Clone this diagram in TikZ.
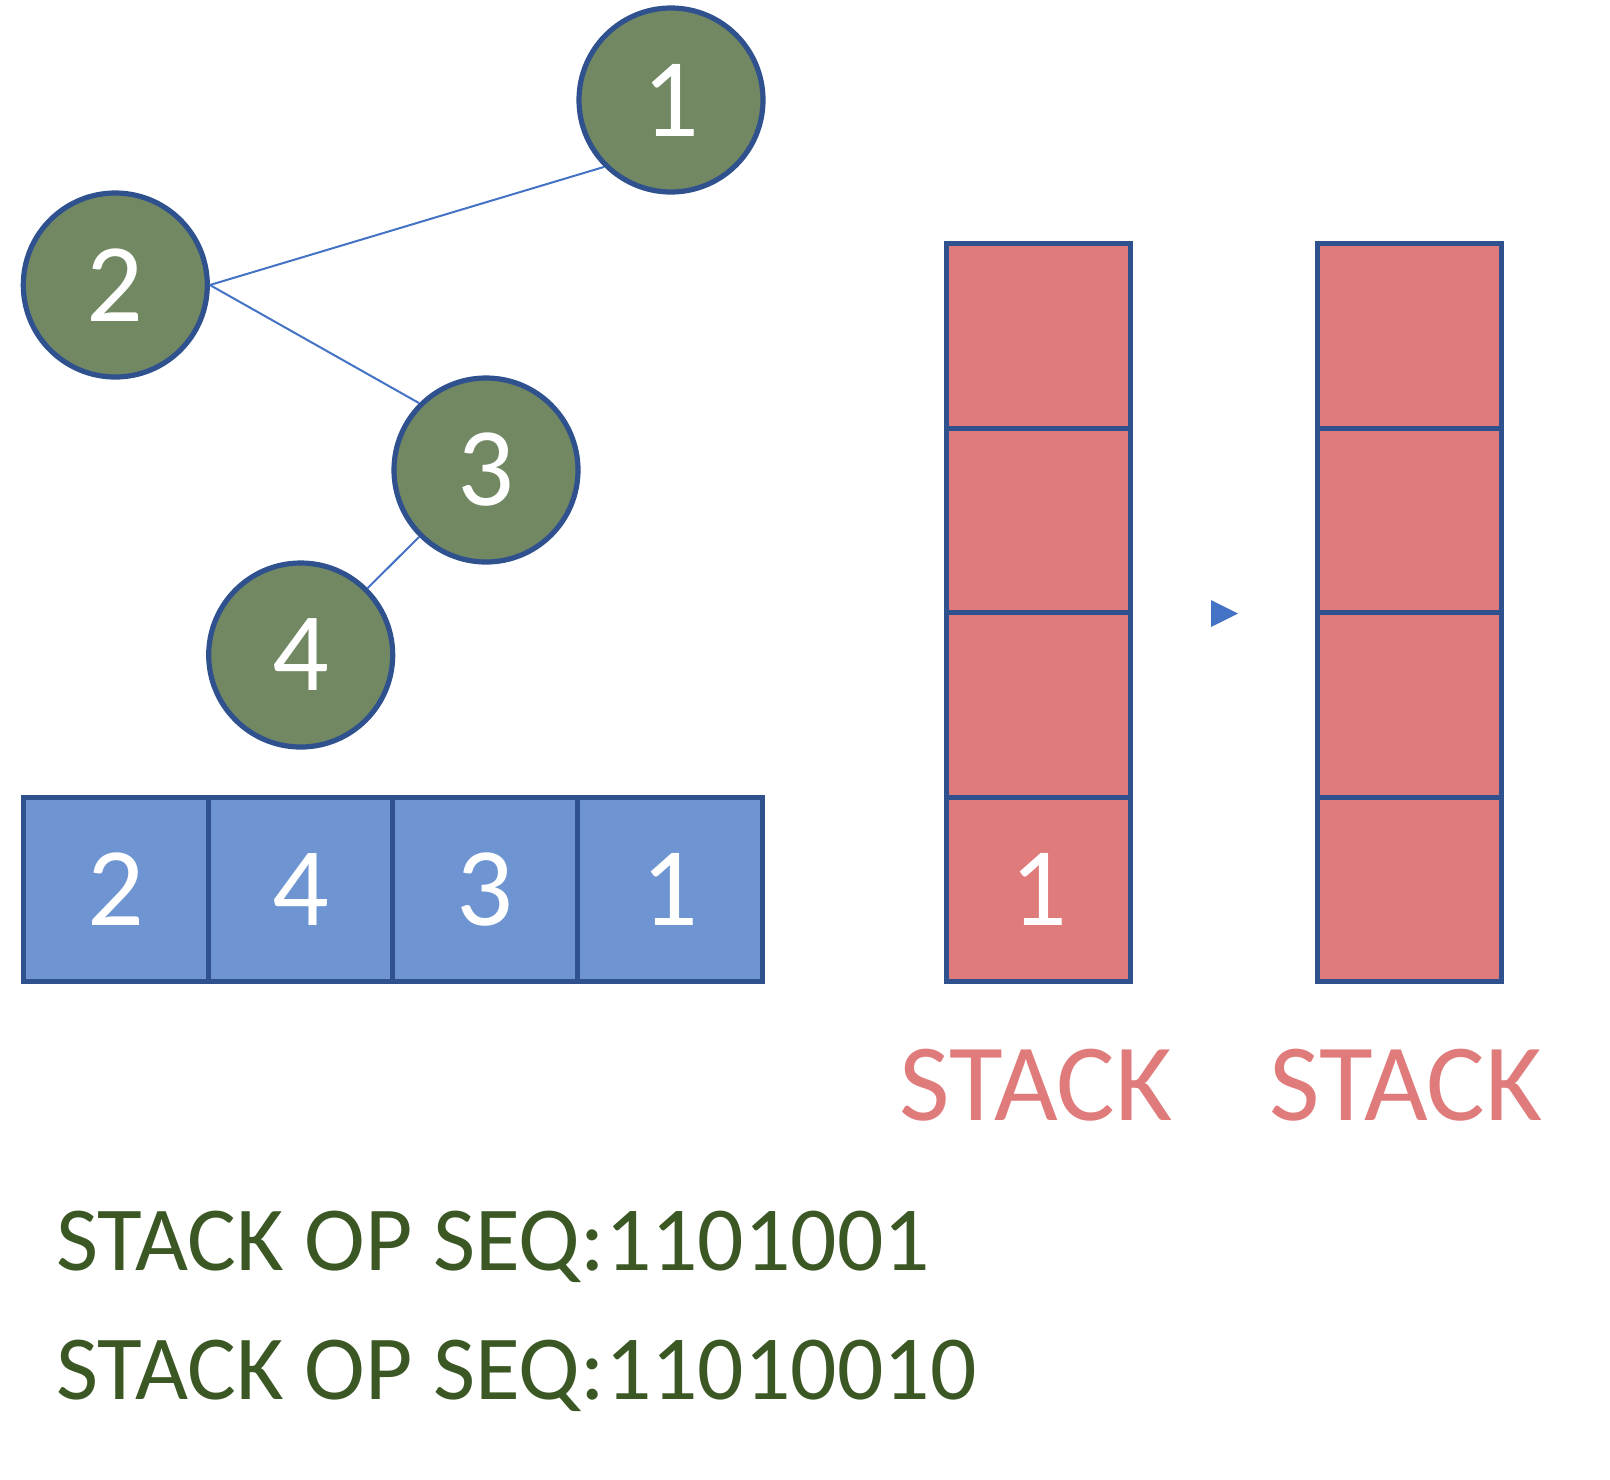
\documentclass[tikz,border=0pt]{standalone}
\usepackage{fontspec}
\setmainfont{Carlito}
\definecolor{nodegreen}{HTML}{718862}
\definecolor{bordblue}{HTML}{2F528F}
\definecolor{arrblue}{HTML}{6E94D2}
\definecolor{stackpink}{HTML}{E07B7B}
\definecolor{edgeblue}{HTML}{4472C4}
\definecolor{textgreen}{HTML}{3A5724}
\tikzset{
  treenode/.style={circle, draw=bordblue, line width=2.6pt, fill=nodegreen, minimum size=92pt, inner sep=0pt, text=white, font=\fontsize{56}{62}\selectfont},
  arrcell/.style={rectangle, draw=bordblue, line width=2.5pt, fill=arrblue, minimum width=92.3pt, minimum height=92.3pt, inner sep=0pt, text=white, font=\fontsize{56}{62}\selectfont},
  stackcell/.style={rectangle, draw=bordblue, line width=2.5pt, fill=stackpink, minimum width=92.3pt, minimum height=92.3pt, inner sep=0pt, text=white, font=\fontsize{56}{62}\selectfont},
  treeedge/.style={draw=edgeblue, line width=1pt},
  stacklabel/.style={anchor=base, text=stackpink, inner sep=0pt, font=\fontsize{55}{62}\selectfont},
  seqtext/.style={anchor=base west, text=textgreen, inner sep=0pt, font=\fontsize{45.8}{52}\selectfont}
}
\begin{document}
\begin{tikzpicture}[x=0.5pt, y=-0.5pt]
\useasboundingbox (0,0) rectangle (1610,1479);
% tree
\node[treenode] (n1) at (671,100) {1};
\node[treenode] (n2) at (115.3,285) {2};
\node[treenode] (n3) at (486,470) {3};
\node[treenode] (n4) at (300.7,655) {4};
\draw[treeedge] (n2.east) -- (n1.225);
\draw[treeedge] (n2.east) -- (n3.135);
\draw[treeedge] (n3.225) -- (n4.45);
% array
\node[arrcell] (a1) at (116,889.5) {2};
\node[arrcell] (a2) at (300.6,889.5) {4};
\node[arrcell] (a3) at (485.2,889.5) {3};
\node[arrcell] (a4) at (669.8,889.5) {1};
% left stack
\node[stackcell] (l1) at (1038.5,889.5) {1};
\node[stackcell] (l2) at (1038.5,704.9) {};
\node[stackcell] (l3) at (1038.5,520.3) {};
\node[stackcell] (l4) at (1038.5,335.7) {};
% right stack
\node[stackcell] (r1) at (1409.5,889.5) {};
\node[stackcell] (r2) at (1409.5,704.9) {};
\node[stackcell] (r3) at (1409.5,520.3) {};
\node[stackcell] (r4) at (1409.5,335.7) {};
% small arrowhead
\fill[edgeblue] (1211,600) -- (1238,613.5) -- (1211,627) -- cycle;
% labels
\node[stacklabel] (sl) at (1036,1120) {STACK};
\node[stacklabel] (sr) at (1406,1120) {STACK};
\node[seqtext] (s1) at (56,1270) {STACK OP SEQ:1101001};
\node[seqtext] (s2) at (56,1399) {STACK OP SEQ:11010010};
\end{tikzpicture}
\end{document}
